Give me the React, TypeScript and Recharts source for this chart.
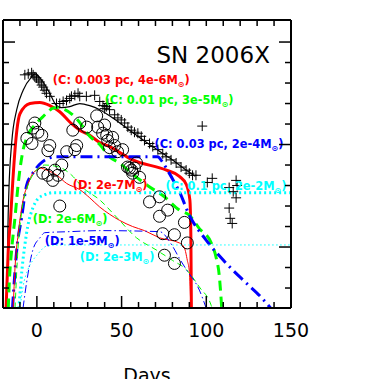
import React from 'react';
import { ComposedChart, Line, Scatter, XAxis, YAxis, ReferenceDot } from 'recharts';

// SN 2006X light curve vs. CSM echo models (days / mag)
const dayTicks = [-10, 0, 10, 20, 30, 40, 50, 60, 70, 80, 90, 100, 110, 120, 130, 140, 150];
const magTicks = [12.0, 12.2, 12.4, 12.6, 12.8, 13.0, 13.2, 13.4, 13.6, 13.8, 14.0, 14.2, 14.4];

// observed points (+)
const obsPlus: [number, number][] = [
  [-7.1, 12.32], [-5.1, 12.31], [-3.1, 12.3], [-2.2, 12.32], [-1.2, 12.34], [-0.2, 12.35], [0.8, 12.37],
  [1.8, 12.39], [2.8, 12.42], [3.7, 12.44], [4.7, 12.47], [5.7, 12.5], [7.6, 12.53], [11.6, 12.6],
  [13.5, 12.6], [15.5, 12.58], [17.5, 12.57], [19.4, 12.55], [20.4, 12.53], [22.4, 12.52], [24.3, 12.5],
  [25.3, 12.53], [29.2, 12.53], [34.1, 12.52], [37.1, 12.58], [39.0, 12.62], [41.0, 12.63], [41.9, 12.6],
  [40.0, 12.65], [42.9, 12.66], [45.9, 12.71], [47.8, 12.74], [49.8, 12.76], [51.8, 12.79], [53.7, 12.83],
  [55.7, 12.86], [57.6, 12.88], [59.6, 12.89], [61.6, 12.92], [63.5, 12.96], [66.5, 12.99], [68.4, 13.02],
  [71.4, 13.05], [74.3, 13.09], [76.3, 13.12], [79.2, 13.15], [82.2, 13.18], [85.1, 13.22], [88.1, 13.25],
  [90.0, 13.28], [91.9, 13.3], [93.9, 13.3], [97.6, 12.82], [100.6, 13.37], [103.5, 13.33], [113.5, 13.42],
  [117.6, 13.35], [118.2, 13.4], [115.9, 13.46], [117.6, 13.52], [113.5, 13.62], [114.1, 13.72], [115.3, 13.77],
];

// observed points (o)
const obsCircle: [number, number][] = [
  [-2.4, 12.84], [-1.2, 12.79], [0.6, 12.88], [2.9, 12.91], [-5.9, 12.94], [-2.9, 12.99], [7.6, 13.01],
  [6.5, 13.06], [17.6, 13.07], [23.5, 13.01], [22.4, 13.05], [21.2, 12.86], [25.3, 12.79], [29.4, 12.83],
  [35.3, 12.72], [35.9, 12.83], [38.8, 12.89], [41.2, 12.91], [41.8, 12.96], [42.9, 13.03], [45.9, 13.01],
  [47.6, 13.07], [40.0, 12.81], [44.7, 12.93], [50.6, 13.05], [53.5, 13.22], [55.9, 13.25], [57.6, 13.23],
  [58.8, 13.18], [56.5, 13.28], [60.6, 13.32], [54.7, 13.23], [14.7, 13.2], [10.6, 13.25], [6.5, 13.3],
  [9.4, 13.35], [12.4, 13.3], [3.5, 13.28], [13.5, 13.6], [66.5, 13.56], [72.4, 13.51], [72.4, 13.7],
  [77.2, 13.64], [74.3, 13.87], [81.2, 13.88], [75.3, 14.08], [81.2, 14.16], [87.1, 13.76], [88.8, 13.96],
];

// total model
const modelTotal: [number, number][] = [
  [-17.6, 14.6], [-17.1, 13.83], [-16.5, 13.44], [-14.9, 12.99], [-11.9, 12.66], [-8.1, 12.47], [-3.1, 12.34],
  [-1.2, 12.31], [2.8, 12.37], [7.6, 12.5], [11.6, 12.62], [14.5, 12.64], [19.4, 12.63], [25.3, 12.6],
  [31.2, 12.62], [37.1, 12.66], [42.9, 12.72], [54.7, 12.86], [66.5, 13.0], [78.2, 13.13], [90.0, 13.27],
  [93.5, 13.31],
];

// C models (thick)
const c003: [number, number][] = [
  [-18.2, 14.6], [-16.9, 14.03], [-15.5, 13.71], [-14.3, 13.38], [-12.9, 13.05], [-11.8, 12.86], [-10.0, 12.7],
  [-4.1, 12.6], [1.8, 12.59], [7.6, 12.62], [13.5, 12.68], [19.4, 12.78], [25.3, 12.86], [31.2, 12.91],
  [37.1, 12.98], [42.9, 13.02], [56.5, 13.15], [76.5, 13.25], [84.1, 13.31], [88.2, 13.39], [90.3, 13.54],
  [90.9, 13.9], [91.2, 14.6],
];
const c01: [number, number][] = [
  [-16.9, 14.6], [-16.3, 14.35], [-14.9, 14.03], [-12.9, 13.71], [-11.0, 13.38], [-8.1, 13.05], [-5.9, 12.93],
  [-1.2, 12.81], [3.5, 12.73], [10.6, 12.64], [16.5, 12.66], [24.1, 12.76], [31.2, 12.92], [37.1, 13.0],
  [42.9, 13.12], [48.8, 13.18], [55.9, 13.28], [65.3, 13.4], [75.3, 13.51], [84.1, 13.64], [90.0, 13.69],
  [95.9, 13.82], [102.9, 13.96], [105.9, 14.11], [107.6, 14.27], [108.8, 14.52], [109.1, 14.6],
];
const c03: [number, number][] = [
  [-14.4, 14.6], [-11.9, 14.03], [-9.0, 13.71], [-6.1, 13.4], [-2.4, 13.28], [1.8, 13.19], [7.6, 13.13],
  [10.6, 13.12], [19.4, 13.12], [42.9, 13.12], [60.6, 13.12], [71.2, 13.12], [74.1, 13.17], [77.1, 13.25],
  [81.2, 13.37], [84.1, 13.46], [90.0, 13.69], [99.8, 13.93], [112.4, 14.17], [123.5, 14.35], [132.4, 14.49],
  [138.2, 14.6],
];
const c1: [number, number][] = [
  [-10.6, 14.6], [-8.8, 14.22], [-7.1, 13.98], [-5.3, 13.79], [-2.4, 13.62], [0.6, 13.53], [4.7, 13.49],
  [9.4, 13.47], [150, 13.47],
];

// D models (thin)
const d2e7: [number, number][] = [
  [-14.0, 14.6], [-12.9, 14.2], [-11.0, 13.87], [-8.1, 13.54], [-5.1, 13.38], [-2.4, 13.28], [-0.2, 13.25],
  [1.8, 13.23], [5.9, 13.25], [11.8, 13.3], [17.6, 13.38], [25.3, 13.44], [31.2, 13.52], [37.1, 13.61],
  [42.9, 13.68], [48.8, 13.74], [56.5, 13.8], [63.5, 13.84], [72.4, 13.91], [84.1, 13.96], [87.1, 14.01],
  [88.8, 14.13], [90.0, 14.24], [90.9, 14.6],
];
const d2e6: [number, number][] = [
  [-12.9, 14.6], [-11.2, 14.03], [-8.8, 13.64], [-5.3, 13.4], [-1.2, 13.27], [4.7, 13.2], [10.6, 13.21],
  [14.7, 13.23], [20.6, 13.3], [27.1, 13.42], [37.1, 13.54], [47.1, 13.71], [58.8, 13.91], [70.6, 14.03],
  [80.0, 14.13], [88.2, 14.22], [95.9, 14.39], [102.9, 14.57], [103.5, 14.6],
];
const d1e5: [number, number][] = [
  [-8.2, 14.6], [-6.1, 14.35], [-2.4, 14.03], [1.8, 13.91], [4.7, 13.86], [19.4, 13.85], [37.1, 13.84],
  [72.4, 13.85], [80.0, 13.99], [84.1, 14.11], [88.2, 14.22], [95.9, 14.42], [100.0, 14.6],
];
const d2e3: [number, number][] = [
  [-10.0, 14.6], [-8.2, 14.39], [-5.3, 14.22], [-2.4, 14.13], [0.0, 14.08], [5.9, 13.99], [13.5, 13.98],
  [150, 13.98],
];

// annotations
const noteTexts = ['C: 0.003 pc, 4e-6', 'C: 0.01 pc, 3e-5', 'C: 0.03 pc, 2e-4', 'C: 0.1 pc, 2e-2', 'D: 2e-7', 'D: 2e-6', 'D: 1e-5', 'D: 2e-3'];
const noteDays = [9.4, 40.0, 69.4, 75.9, 21.2, -2.4, 4.7, 25.3];
const noteMags = [12.405, 12.605, 13.034, 13.44, 13.43, 13.766, 13.98, 14.137];
const noteColors = ['#ff0000', '#00ff00', '#0000ff', '#00ffff', '#ff0000', '#00ff00', '#0000ff', '#00ffff'];

const pts = (a: [number, number][]) => a.map(([x, y]) => ({ x, y }));
const isMajorDay = (v: number) => v % 50 === 0;
const isMajorMag = (v: number) => Math.abs(v - Math.round(v)) < 1e-6;

const W = 374;
const H = 379;
const MARGIN = { top: 19, right: 82, bottom: 21, left: 2 };
const BOTTOM_AXIS_H = 50;
const PLOT_H = H - MARGIN.top - 1 - MARGIN.bottom - BOTTOM_AXIS_H; // frame axes are 1px

const FONT = 'DejaVu Sans';
const TICK = { stroke: '#000', strokeWidth: 1.5 };
const AXIS = { stroke: '#000', strokeWidth: 2 };
const MINOR = 6;
const MAJOR = 12;

// all ticks point into the plot; the top axis also draws the mirrored bottom ticks
function topTick(props: any) {
  const { x, y, payload } = props;
  const len = isMajorDay(payload.value) ? MAJOR : MINOR;
  const yb = y + PLOT_H;
  return (
    <g>
      <line x1={x} x2={x} y1={y} y2={y + MINOR} {...TICK} />
      <line x1={x} x2={x} y1={yb} y2={yb - len} {...TICK} />
    </g>
  );
}
function bottomLabel(props: any) {
  const { x, y, payload } = props;
  const v = payload.value;
  if (!isMajorDay(v)) return <g />;
  return (
    <text x={x} y={y + 29} textAnchor="middle" fontFamily={FONT} fontSize={19} fill="#000">
      {v}
    </text>
  );
}
function leftTick(props: any) {
  const { x, y, payload } = props;
  const len = isMajorMag(payload.value) ? MAJOR : MINOR;
  return <line x1={x} x2={x + len} y1={y} y2={y} {...TICK} />;
}
function rightTick(props: any) {
  const { x, y, payload } = props;
  const len = isMajorMag(payload.value) ? MAJOR : MINOR;
  return <line x1={x} x2={x - len} y1={y} y2={y} {...TICK} />;
}

const plusShape = (p: any) => (
  <path d={`M${p.cx - 5},${p.cy}h10M${p.cx},${p.cy - 5}v10`} stroke="#000" strokeWidth={1} fill="none" />
);
const circleShape = (p: any) => <circle cx={p.cx} cy={p.cy} r={6} stroke="#000" strokeWidth={1} fill="none" />;

const noteShape = (text: string, color: string) => (p: any) => (
  <text x={p.cx} y={p.cy} fill={color} fontFamily={FONT} fontWeight="bold" fontSize={11.4}>
    ({text}M
    <tspan fontSize={8} dy={3}>⊙</tspan>
    <tspan dy={-3}>)</tspan>
  </text>
);

const titleShape = (p: any) => (
  <text x={p.cx} y={p.cy} fill="#000" fontFamily={FONT} fontSize={23}>
    SN 2006X
  </text>
);

const xDomain = [-20, 150];
const yDomain = [11.785, 14.595];

const models = [
  { data: c003, color: '#ff0000', width: 3, dash: undefined },
  { data: c01, color: '#00ff00', width: 3, dash: '10 6' },
  { data: c03, color: '#0000ff', width: 3, dash: '12 5 2 5' },
  { data: c1, color: '#00ffff', width: 3, dash: '2 3' },
  { data: d2e7, color: '#ff0000', width: 1, dash: undefined },
  { data: d2e6, color: '#00ff00', width: 1, dash: '6 4' },
  { data: d1e5, color: '#0000ff', width: 1, dash: '8 3 1.5 3' },
  { data: d2e3, color: '#00ffff', width: 1, dash: '1.5 2.5' },
];

const xAxisBase = {
  dataKey: 'x',
  type: 'number' as const,
  domain: xDomain,
  ticks: dayTicks,
  interval: 0,
  allowDataOverflow: true,
  tickSize: 0,
  tickMargin: 0,
  tickLine: false,
};
const yAxisBase = {
  dataKey: 'y',
  type: 'number' as const,
  domain: yDomain,
  reversed: true,
  ticks: magTicks,
  interval: 0,
  allowDataOverflow: true,
  tickSize: 0,
  tickMargin: 0,
  tickLine: false,
};

export default function App() {
  return (
    <div style={{ position: 'fixed', left: 0, top: 0, background: '#fff' }}>
      <ComposedChart width={W} height={H} margin={MARGIN}>
        <XAxis
          {...xAxisBase}
          height={BOTTOM_AXIS_H}
          axisLine={AXIS}
          tick={bottomLabel}
          label={(lp: any) => {
            const vb = lp.viewBox || { x: 3, y: 308, width: 288 };
            return (
              <text x={vb.x + vb.width / 2} y={vb.y + 74} textAnchor="middle" fontFamily={FONT} fontSize={19} fill="#000">
                Days
              </text>
            );
          }}
        />
        <XAxis {...xAxisBase} xAxisId="top" orientation="top" height={1} axisLine={AXIS} tick={topTick} />
        <YAxis {...yAxisBase} width={1} axisLine={AXIS} tick={leftTick} />
        <YAxis {...yAxisBase} yAxisId="right" orientation="right" width={1} axisLine={AXIS} tick={rightTick} />
        <Scatter data={pts(obsCircle)} shape={circleShape} isAnimationActive={false} />
        <Scatter data={pts(obsPlus)} shape={plusShape} isAnimationActive={false} />
        <Line
          data={pts(modelTotal)}
          dataKey="y"
          type="monotone"
          stroke="#000"
          strokeWidth={1.2}
          dot={false}
          activeDot={false}
          isAnimationActive={false}
        />
        {models.map((m, i) => (
          <Line
            key={i}
            data={pts(m.data)}
            dataKey="y"
            type="monotone"
            stroke={m.color}
            strokeWidth={m.width}
            strokeDasharray={m.dash}
            dot={false}
            activeDot={false}
            isAnimationActive={false}
          />
        ))}
        {/* keeps the frame-only top/right axes bound to a series */}
        <Line
          xAxisId="top"
          yAxisId="right"
          data={pts(c1)}
          dataKey="y"
          stroke="none"
          dot={false}
          activeDot={false}
          isAnimationActive={false}
        />
        <ReferenceDot x={70.6} y={12.205} r={0} shape={titleShape} ifOverflow="visible" />
        {noteTexts.map((t, i) => (
          <ReferenceDot
            key={t}
            x={noteDays[i]}
            y={noteMags[i]}
            r={0}
            shape={noteShape(t, noteColors[i])}
            ifOverflow="visible"
          />
        ))}
      </ComposedChart>
    </div>
  );
}
